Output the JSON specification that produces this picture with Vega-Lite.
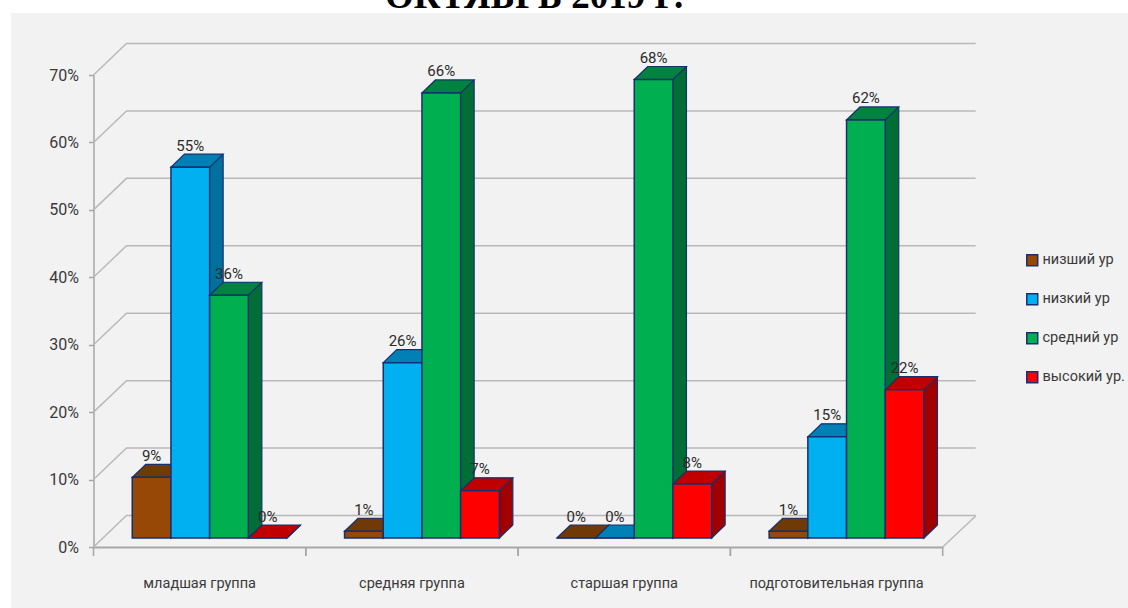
{
"$schema":"https://vega.github.io/schema/vega-lite/v6.json",
"width":1117,"height":595,"autosize":"none",
"padding":{"left":11,"top":13,"right":0,"bottom":0},
"background":"#ffffff",
"view":{"fill":"#f2f2f2","stroke":null},
"title":{"text":"ОКТЯБРЬ 2019 Г.","font":"Liberation Serif","fontWeight":"bold","fontSize":37,"color":"#000000","anchor":"start","frame":"group","dx":374,"dy":32,"offset":0,"baseline":"alphabetic"},
"datasets":{
"bars":[
{"g":"младшая группа","s":"низший ур","v":0.09},
{"g":"младшая группа","s":"низкий ур","v":0.55},
{"g":"младшая группа","s":"средний ур","v":0.36},
{"g":"младшая группа","s":"высокий ур.","v":0},
{"g":"средняя группа","s":"низший ур","v":0.01},
{"g":"средняя группа","s":"низкий ур","v":0.26},
{"g":"средняя группа","s":"средний ур","v":0.66},
{"g":"средняя группа","s":"высокий ур.","v":0.07},
{"g":"старшая группа","s":"низший ур","v":0},
{"g":"старшая группа","s":"низкий ур","v":0},
{"g":"старшая группа","s":"средний ур","v":0.68},
{"g":"старшая группа","s":"высокий ур.","v":0.08},
{"g":"подготовительная группа","s":"низший ур","v":0.01},
{"g":"подготовительная группа","s":"низкий ур","v":0.15},
{"g":"подготовительная группа","s":"средний ур","v":0.62},
{"g":"подготовительная группа","s":"высокий ур.","v":0.22}
],
"ticks":[{"t":0},{"t":0.1},{"t":0.2},{"t":0.3},{"t":0.4},{"t":0.5},{"t":0.6},{"t":0.7}]
},
"data":{"name":"bars"},
"resolve":{"scale":{"xOffset":"independent"}},
"layer":[
{"data":{"name":"ticks"},
 "mark":{"type":"point","shape":"M-28.75 0 L4.25 -31.5 L853.45 -31.5","size":4,"filled":false,"stroke":"#b9b9b9","strokeWidth":1.5,"opacity":1},
 "encoding":{
  "x":{"datum":"младшая группа","bandPosition":0,"type":"nominal","title":null,
   "scale":{"domain":["младшая группа","средняя группа","старшая группа","подготовительная группа"],"range":[82.5,931.7],"paddingInner":0.2708,"paddingOuter":0.1354},
   "axis":{"title":null,"orient":"bottom","offset":-61,"labelAngle":0,"labelFont":"Roboto","labelFontSize":14.5,"labelColor":"#3a3a3a","labelPadding":29,"labelLimit":300,"ticks":false,"domainColor":"#a6a6a6","domainWidth":2,"zindex":0}},
  "y":{"field":"t","type":"quantitative","title":null,
   "scale":{"domain":[0,0.7],"range":[534,62],"nice":false},
   "axis":{"title":null,"orient":"left","offset":-82.5,"values":[0,0.1,0.2,0.3,0.4,0.5,0.6,0.7],"format":".0%","grid":false,"labelFont":"Roboto","labelFontSize":16,"labelColor":"#3a3a3a","labelPadding":10,"tickSize":5,"tickColor":"#a6a6a6","tickWidth":1.5,"domainColor":"#a6a6a6","domainWidth":1.5,"zindex":0}}
 }},
{"data":{"values":[{"t":0}]},
 "mark":{"type":"point","shape":"M820.45 0 L853.45 -31","size":4,"filled":false,"stroke":"#b9b9b9","strokeWidth":1.5,"opacity":1},
 "encoding":{"x":{"datum":"младшая группа","bandPosition":0,"type":"nominal"},"y":{"field":"t","type":"quantitative"}}},
{"data":{"values":[{"g":"младшая группа","t":0},{"g":"средняя группа","t":0},{"g":"старшая группа","t":0},{"g":"подготовительная группа","t":0}]},
 "mark":{"type":"point","shape":"M-106.15 0 L-106.15 9 M106.15 0 L106.15 9","size":4,"filled":false,"stroke":"#a6a6a6","strokeWidth":1.5,"opacity":1},
 "encoding":{"x":{"field":"g","type":"nominal","sort":null},"y":{"field":"t","type":"quantitative"}}},
{"transform":[{"filter":"datum.s==='низший ур'"}],
 "resolve":{"scale":{"xOffset":"independent"}},
 "encoding":{"y":{"field":"v","type":"quantitative","stack":null},"x":{"field":"g","type":"nominal","sort":null}},
 "layer":[
 {"mark":{"type":"bar","fill":"#5f3206","yOffset":-22,"y2Offset":-22},"encoding":{"xOffset":{"field":"s","type":"nominal","scale":{"domain":["низший ур","низкий ур","средний ур","высокий ур."],"range":[23.5,178.3]}},"y2":{"datum":0}}},
 {"mark":{"type":"point","shape":"M29.35 -13 L29.35 0 L42.85 -13","size":4,"filled":true,"fill":"#5f3206","stroke":"#17306e","strokeWidth":1.2,"opacity":1,"yOffset":-9},"encoding":{"xOffset":{"field":"s","type":"nominal","scale":{"domain":["низший ур","низкий ур","средний ур","высокий ур."],"range":[0,154.8]}},"y":{"datum":0,"type":"quantitative"}}},
 {"mark":{"type":"rule","stroke":"#17306e","strokeWidth":1.2,"yOffset":-22,"y2Offset":-22},"encoding":{"xOffset":{"field":"s","type":"nominal","scale":{"domain":["низший ур","низкий ур","средний ур","высокий ур."],"range":[42.85,197.65]}},"y2":{"datum":0}}},
 {"mark":{"type":"point","shape":"M-9.35 0 L29.35 0 L42.85 -13 L4.15 -13 Z","size":4,"filled":true,"fill":"#703a06","stroke":"#17306e","strokeWidth":1.2,"opacity":1,"yOffset":-9},"encoding":{"xOffset":{"field":"s","type":"nominal","scale":{"domain":["низший ур","низкий ур","средний ур","высокий ур."],"range":[0,154.8]}}}},
 {"mark":{"type":"bar","stroke":"#17306e","strokeWidth":1.5,"yOffset":-9,"y2Offset":-9},"encoding":{"xOffset":{"field":"s","type":"nominal","scale":{"domain":["низший ур","низкий ур","средний ур","высокий ур."],"range":[10,164.8]}},"y2":{"datum":0},"color":{"field":"s","type":"nominal","title":null,"scale":{"domain":["низший ур","низкий ур","средний ур","высокий ур."],"range":["#974706","#00b0f0","#00b050","#ff0000"]},
   "legend":{"title":null,"orient":"none","legendX":1014,"legendY":240,"symbolType":"square","symbolSize":120,"symbolStrokeColor":"#17306e","symbolStrokeWidth":1.5,"labelFont":"Roboto","labelFontSize":14.5,"labelColor":"#3a3a3a","rowPadding":21,"labelOffset":3,"padding":0}}}}
 ]},
{"transform":[{"filter":"datum.s==='низкий ур'"}],
 "resolve":{"scale":{"xOffset":"independent"}},
 "encoding":{"y":{"field":"v","type":"quantitative","stack":null},"x":{"field":"g","type":"nominal","sort":null}},
 "layer":[
 {"mark":{"type":"bar","fill":"#00709c","yOffset":-22,"y2Offset":-22},"encoding":{"xOffset":{"field":"s","type":"nominal","scale":{"domain":["низший ур","низкий ур","средний ур","высокий ур."],"range":[23.5,178.3]}},"y2":{"datum":0}}},
 {"mark":{"type":"point","shape":"M29.35 -13 L29.35 0 L42.85 -13","size":4,"filled":true,"fill":"#00709c","stroke":"#17306e","strokeWidth":1.2,"opacity":1,"yOffset":-9},"encoding":{"xOffset":{"field":"s","type":"nominal","scale":{"domain":["низший ур","низкий ур","средний ур","высокий ур."],"range":[0,154.8]}},"y":{"datum":0,"type":"quantitative"}}},
 {"mark":{"type":"rule","stroke":"#17306e","strokeWidth":1.2,"yOffset":-22,"y2Offset":-22},"encoding":{"xOffset":{"field":"s","type":"nominal","scale":{"domain":["низший ур","низкий ур","средний ур","высокий ур."],"range":[42.85,197.65]}},"y2":{"datum":0}}},
 {"mark":{"type":"point","shape":"M-9.35 0 L29.35 0 L42.85 -13 L4.15 -13 Z","size":4,"filled":true,"fill":"#0080b4","stroke":"#17306e","strokeWidth":1.2,"opacity":1,"yOffset":-9},"encoding":{"xOffset":{"field":"s","type":"nominal","scale":{"domain":["низший ур","низкий ур","средний ур","высокий ур."],"range":[0,154.8]}}}},
 {"mark":{"type":"bar","stroke":"#17306e","strokeWidth":1.5,"yOffset":-9,"y2Offset":-9},"encoding":{"xOffset":{"field":"s","type":"nominal","scale":{"domain":["низший ур","низкий ур","средний ур","высокий ур."],"range":[10,164.8]}},"y2":{"datum":0},"color":{"field":"s","type":"nominal"}}}
 ]},
{"transform":[{"filter":"datum.s==='средний ур'"}],
 "resolve":{"scale":{"xOffset":"independent"}},
 "encoding":{"y":{"field":"v","type":"quantitative","stack":null},"x":{"field":"g","type":"nominal","sort":null}},
 "layer":[
 {"mark":{"type":"bar","fill":"#006e36","yOffset":-22,"y2Offset":-22},"encoding":{"xOffset":{"field":"s","type":"nominal","scale":{"domain":["низший ур","низкий ур","средний ур","высокий ур."],"range":[23.5,178.3]}},"y2":{"datum":0}}},
 {"mark":{"type":"point","shape":"M29.35 -13 L29.35 0 L42.85 -13","size":4,"filled":true,"fill":"#006e36","stroke":"#17306e","strokeWidth":1.2,"opacity":1,"yOffset":-9},"encoding":{"xOffset":{"field":"s","type":"nominal","scale":{"domain":["низший ур","низкий ур","средний ур","высокий ур."],"range":[0,154.8]}},"y":{"datum":0,"type":"quantitative"}}},
 {"mark":{"type":"rule","stroke":"#17306e","strokeWidth":1.2,"yOffset":-22,"y2Offset":-22},"encoding":{"xOffset":{"field":"s","type":"nominal","scale":{"domain":["низший ур","низкий ур","средний ур","высокий ур."],"range":[42.85,197.65]}},"y2":{"datum":0}}},
 {"mark":{"type":"point","shape":"M-9.35 0 L29.35 0 L42.85 -13 L4.15 -13 Z","size":4,"filled":true,"fill":"#008240","stroke":"#17306e","strokeWidth":1.2,"opacity":1,"yOffset":-9},"encoding":{"xOffset":{"field":"s","type":"nominal","scale":{"domain":["низший ур","низкий ур","средний ур","высокий ур."],"range":[0,154.8]}}}},
 {"mark":{"type":"bar","stroke":"#17306e","strokeWidth":1.5,"yOffset":-9,"y2Offset":-9},"encoding":{"xOffset":{"field":"s","type":"nominal","scale":{"domain":["низший ур","низкий ур","средний ур","высокий ур."],"range":[10,164.8]}},"y2":{"datum":0},"color":{"field":"s","type":"nominal"}}}
 ]},
{"transform":[{"filter":"datum.s==='высокий ур.'"}],
 "resolve":{"scale":{"xOffset":"independent"}},
 "encoding":{"y":{"field":"v","type":"quantitative","stack":null},"x":{"field":"g","type":"nominal","sort":null}},
 "layer":[
 {"mark":{"type":"bar","fill":"#a00000","yOffset":-22,"y2Offset":-22},"encoding":{"xOffset":{"field":"s","type":"nominal","scale":{"domain":["низший ур","низкий ур","средний ур","высокий ур."],"range":[23.5,178.3]}},"y2":{"datum":0}}},
 {"mark":{"type":"point","shape":"M29.35 -13 L29.35 0 L42.85 -13","size":4,"filled":true,"fill":"#a00000","stroke":"#17306e","strokeWidth":1.2,"opacity":1,"yOffset":-9},"encoding":{"xOffset":{"field":"s","type":"nominal","scale":{"domain":["низший ур","низкий ур","средний ур","высокий ур."],"range":[0,154.8]}},"y":{"datum":0,"type":"quantitative"}}},
 {"mark":{"type":"rule","stroke":"#17306e","strokeWidth":1.2,"yOffset":-22,"y2Offset":-22},"encoding":{"xOffset":{"field":"s","type":"nominal","scale":{"domain":["низший ур","низкий ур","средний ур","высокий ур."],"range":[42.85,197.65]}},"y2":{"datum":0}}},
 {"mark":{"type":"point","shape":"M-9.35 0 L29.35 0 L42.85 -13 L4.15 -13 Z","size":4,"filled":true,"fill":"#c00000","stroke":"#17306e","strokeWidth":1.2,"opacity":1,"yOffset":-9},"encoding":{"xOffset":{"field":"s","type":"nominal","scale":{"domain":["низший ур","низкий ур","средний ур","высокий ур."],"range":[0,154.8]}}}},
 {"mark":{"type":"bar","stroke":"#17306e","strokeWidth":1.5,"yOffset":-9,"y2Offset":-9},"encoding":{"xOffset":{"field":"s","type":"nominal","scale":{"domain":["низший ур","низкий ур","средний ур","высокий ур."],"range":[10,164.8]}},"y2":{"datum":0},"color":{"field":"s","type":"nominal"}}}
 ]},
{"mark":{"type":"text","font":"Roboto","fontSize":15,"fill":"#2a2a2a","baseline":"middle","align":"center","yOffset":-30.5},
 "encoding":{"x":{"field":"g","type":"nominal","sort":null},"xOffset":{"field":"s","type":"nominal","scale":{"domain":["низший ур","низкий ур","средний ур","высокий ур."],"range":[10,164.8]}},"y":{"field":"v","type":"quantitative","stack":null},"text":{"field":"v","type":"quantitative","format":".0%"}}}
]
}
